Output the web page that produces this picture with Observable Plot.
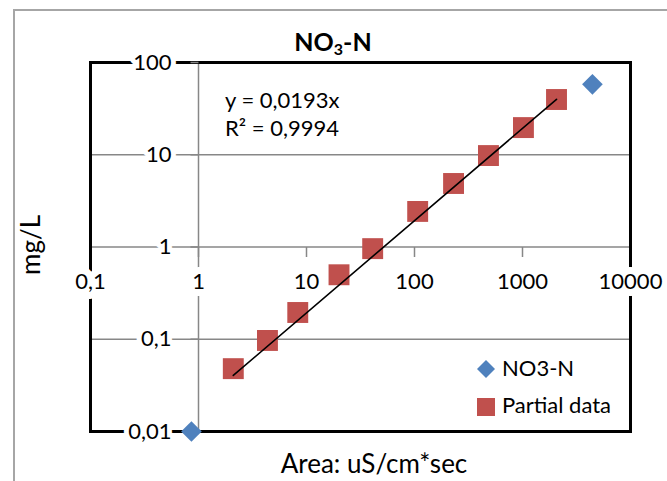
<!DOCTYPE html>
<html><head><meta charset="utf-8">
<script src="https://cdn.jsdelivr.net/npm/d3@7"></script>
<script src="https://cdn.jsdelivr.net/npm/@observablehq/plot@0.6"></script>
<style>
body{margin:0;background:#fff;}
#wrap{position:relative;width:667px;height:481px;overflow:hidden;font-family:Lato,"Open Sans",sans-serif;color:#000;}
#border{position:absolute;left:13px;top:9px;width:720px;height:520px;border:2px solid #a6a6a6;box-sizing:border-box;}
#chart{position:absolute;left:0;top:0;}
.t{position:absolute;line-height:1;white-space:nowrap;font-size:22px;}
#title{font-weight:bold;font-size:25px;transform:translateX(-50%);}
#title sub{font-size:16px;vertical-align:-4px;line-height:0;}
#xtitle{font-size:26px;transform:translateX(-50%);}
#ytitle{font-size:26px;transform:translate(-50%,-50%) rotate(-90deg);transform-origin:center;}
.sw{position:absolute;}
</style></head>
<body>
<div id="wrap">
  <div id="border"></div>
  <div id="chart"></div>
  <div class="t" id="title" style="left:333px;top:29px">NO<sub>3</sub>-N</div>
  <div class="t" id="eq1" style="left:225px;top:89px"></div>
  <div class="t" id="eq2" style="left:225px;top:117px"></div>
  <div class="t" id="xtitle" style="left:374px;top:450px"></div>
  <div class="t" id="ytitle" style="left:30px;top:245px"></div>
  <svg class="sw" style="left:476px;top:359px" width="20" height="20"><path d="M10,1L19,10L10,19L1,10Z" fill="#4f81bd"/></svg>
  <div class="t" id="leg1" style="left:502px;top:357px"></div>
  <svg class="sw" style="left:477px;top:398px" width="18" height="18"><rect x="0" y="0" width="18" height="18" fill="#c0504d"/></svg>
  <div class="t" id="leg2" style="left:502px;top:394px"></div>
</div>
<script>
// ---- data ----
const partialArea = [2.1, 4.35, 8.3, 20, 41, 107, 230, 484, 1020, 2065];
const partialConc = [0.048, 0.097, 0.195, 0.5, 0.96, 2.43, 4.88, 9.8, 19.7, 39.7];
const no3Area = [0.86, 4440];
const no3Conc = [0.01, 58];
const trendSlope = 0.0193;
const trendRange = [2.1, 2065];
const xTicks = [0.1, 1, 10, 100, 1000, 10000];
const xTickLabels = ["0,1", "1", "10", "100", "1000", "10000"];
const yTicks = [0.01, 0.1, 1, 10, 100];
const yTickLabels = ["0,01", "0,1", "1", "10", "100"];
const seriesNames = ["NO3-N", "Partial data"];
const equationLines = ["y = 0,0193x", "R² = 0,9994"];
const xTitle = "Area: uS/cm*sec";
const yTitle = "mg/L";

document.getElementById("eq1").textContent = equationLines[0];
document.getElementById("eq2").textContent = equationLines[1];
document.getElementById("xtitle").textContent = xTitle;
document.getElementById("ytitle").textContent = yTitle;
document.getElementById("leg1").textContent = seriesNames[0];
document.getElementById("leg2").textContent = seriesNames[1];

const partial = partialArea.map((x, i) => ({x, y: partialConc[i]}));
const no3 = no3Area.map((x, i) => ({x, y: no3Conc[i]}));
const trend = trendRange.map(x => ({x, y: trendSlope * x}));
const xt = xTicks.map((v, i) => ({v, label: xTickLabels[i]}));
const yt = yTicks.map((v, i) => ({v, label: yTickLabels[i]}));

const tickDown = {draw(ctx) { ctx.moveTo(0, 0); ctx.lineTo(0, 10); }};
const tickLeft = {draw(ctx) { ctx.moveTo(-8, 0); ctx.lineTo(0, 0); }};
const gray = "#878787";

const chart = Plot.plot({
  width: 667, height: 481,
  marginLeft: 90, marginRight: 37, marginTop: 62, marginBottom: 50,
  x: {type: "log", domain: [0.1, 10000], axis: null},
  y: {type: "log", domain: [0.01, 100], axis: null},
  style: {fontFamily: "Lato, sans-serif", fontSize: "22px", background: "transparent", overflow: "visible"},
  marks: [
    Plot.ruleY(yTicks.slice(1, -1), {stroke: gray, strokeWidth: 1.5}),
    Plot.ruleX([1], {stroke: gray, strokeWidth: 1.5}),
    Plot.frame({stroke: "#000", strokeWidth: 3}),
    Plot.dot(xt.slice(1, -1), {x: "v", y: () => 1, symbol: tickDown, stroke: gray, strokeWidth: 1.5, fill: "none"}),
    Plot.dot(yt, {x: () => 1, y: "v", symbol: tickLeft, stroke: gray, strokeWidth: 1.5, fill: "none"}),
    Plot.text(xt, {x: "v", y: () => 1, text: "label", dy: 35, fill: "#000", stroke: "#fff", strokeWidth: 14, paintOrder: "stroke", strokeLinejoin: "round"}),
    Plot.text(yt, {x: () => 1, y: "v", text: "label", dx: -27, textAnchor: "end", fill: "#000", stroke: "#fff", strokeWidth: 10, paintOrder: "stroke", strokeLinejoin: "round"}),
    Plot.dot(partial, {x: "x", y: "y", symbol: "square", r: 11.8, fill: "#c0504d", stroke: "none"}),
    Plot.line(trend, {x: "x", y: "y", stroke: "#000", strokeWidth: 1.6}),
    Plot.dot(no3, {x: "x", y: "y", symbol: "diamond2", r: 9.3, fill: "#4f81bd", stroke: "none"})
  ]
});
document.getElementById("chart").appendChild(chart);
</script>
</body></html>
